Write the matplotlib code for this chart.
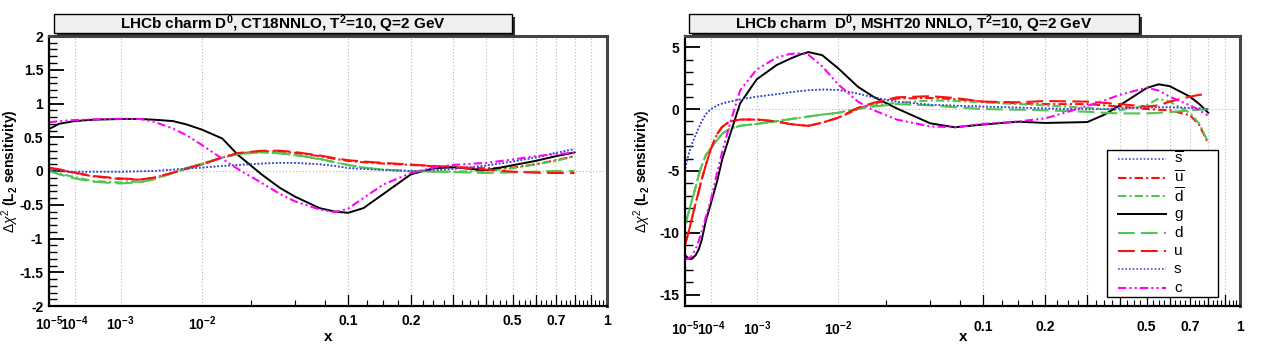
import numpy as np
import matplotlib.pyplot as plt
from matplotlib.lines import Line2D
from matplotlib.patches import Rectangle
from matplotlib.ticker import FixedLocator, MultipleLocator, FuncFormatter

plt.rcParams['font.family'] = ['Liberation Sans', 'DejaVu Sans']
plt.rcParams['mathtext.fontset'] = 'custom'
plt.rcParams['mathtext.rm'] = 'Liberation Sans'
plt.rcParams['mathtext.it'] = 'Liberation Sans:italic'
plt.rcParams['mathtext.bf'] = 'Liberation Sans:bold'

# ---------------- data: CT18NNLO (left) ----------------
x_ct18 = [1e-5, 3e-5, 1e-4, 3e-4, 1e-3, 2e-3, 3e-3, 5e-3, 7e-3, 1e-2, 0.015, 0.02, 0.03,
          0.04, 0.05, 0.07, 0.085, 0.1, 0.12, 0.15, 0.2, 0.25, 0.3, 0.4, 0.5, 0.6, 0.7, 0.8]
ct18_sbar = [0.0, -0.005, -0.01, -0.01, -0.01, -0.005, 0.0, 0.02, 0.035, 0.05, 0.075, 0.09, 0.11,
             0.12, 0.12, 0.10, 0.075, 0.045, 0.03, 0.015, 0.0, 0.01, 0.03, 0.08, 0.14, 0.2, 0.27, 0.32]
ct18_ubar = [0.04, 0.02, -0.03, -0.08, -0.12, -0.13, -0.10, -0.03, 0.035, 0.10, 0.2, 0.26, 0.29,
             0.29, 0.27, 0.22, 0.18, 0.15, 0.13, 0.11, 0.09, 0.07, 0.06, 0.04, 0.05, 0.1, 0.16, 0.22]
ct18_dbar = [0.0, -0.04, -0.09, -0.15, -0.17, -0.155, -0.12, -0.03, 0.045, 0.11, 0.2, 0.25, 0.275,
             0.26, 0.235, 0.175, 0.13, 0.09, 0.05, 0.02, 0.0, -0.01, -0.01, 0.0, 0.04, 0.1, 0.15, 0.22]
ct18_g = [0.62, 0.70, 0.74, 0.76, 0.77, 0.77, 0.76, 0.74, 0.69, 0.61, 0.48, 0.24, -0.05,
          -0.25, -0.38, -0.55, -0.60, -0.62, -0.55, -0.34, -0.05, 0.04, 0.055, 0.01, 0.085, 0.15, 0.22, 0.275]
ct18_d = [0.0, -0.05, -0.11, -0.16, -0.185, -0.165, -0.125, -0.03, 0.045, 0.11, 0.2, 0.25, 0.28,
          0.265, 0.24, 0.18, 0.13, 0.09, 0.05, 0.02, 0.0, -0.01, -0.015, -0.03, -0.02, -0.01, 0.0, 0.0]
ct18_u = [0.05, 0.025, -0.025, -0.075, -0.11, -0.125, -0.10, -0.025, 0.035, 0.10, 0.2, 0.265, 0.30,
          0.30, 0.28, 0.23, 0.19, 0.16, 0.14, 0.12, 0.095, 0.075, 0.06, 0.02, -0.01, -0.025, -0.03, -0.03]
ct18_s = [0.0, -0.005, -0.01, -0.01, -0.01, -0.005, 0.0, 0.02, 0.035, 0.05, 0.075, 0.09, 0.11,
          0.12, 0.12, 0.10, 0.075, 0.045, 0.03, 0.015, 0.0, 0.01, 0.03, 0.08, 0.14, 0.2, 0.27, 0.33]
ct18_c = [0.72, 0.74, 0.755, 0.765, 0.775, 0.77, 0.73, 0.63, 0.53, 0.38, 0.18, 0.03, -0.175,
          -0.34, -0.45, -0.57, -0.61, -0.56, -0.40, -0.2, -0.03, 0.05, 0.09, 0.12, 0.17, 0.22, 0.25, 0.27]

# ---------------- data: MSHT20 NNLO (right) ----------------
x_msht = [1e-5, 1.5e-5, 2e-5, 3e-5, 4e-5, 5e-5, 7e-5, 1e-4, 1.5e-4, 2e-4, 3e-4, 5e-4,
          1e-3, 2e-3, 3e-3, 4e-3, 5e-3, 7e-3, 1e-2, 0.015, 0.02, 0.03, 0.05, 0.07, 0.1,
          0.15, 0.2, 0.3, 0.35, 0.4, 0.5, 0.55, 0.6, 0.7, 0.75, 0.8]
msht_sbar = [-4.8, -3.6, -2.9, -2.1, -1.5, -1.0, -0.4, 0.0, 0.3, 0.45, 0.6, 0.78,
             1.0, 1.2, 1.35, 1.45, 1.52, 1.58, 1.55, 1.25, 0.95, 0.6, 0.35, 0.28, 0.2,
             0.12, 0.05, -0.02, 0.0, 0.05, 0.13, 0.15, 0.14, 0.1, 0.05, 0.0]
msht_ubar = [-10.9, -9.9, -9.0, -7.6, -6.6, -5.7, -4.5, -3.2, -2.0, -1.45, -1.0, -0.85,
             -0.85, -1.0, -1.2, -1.3, -1.35, -1.1, -0.7, 0.0, 0.45, 0.85, 0.9, 0.8, 0.6,
             0.45, 0.4, 0.4, 0.3, 0.2, 0.0, -0.05, -0.1, -0.5, -1.3, -2.8]
msht_dbar = [-9.3, -8.3, -7.5, -6.3, -5.3, -4.6, -3.7, -3.1, -2.5, -2.0, -1.6, -1.35,
             -1.2, -0.98, -0.82, -0.7, -0.6, -0.45, -0.3, 0.05, 0.3, 0.5, 0.7, 0.65, 0.55,
             0.4, 0.3, 0.1, 0.0, -0.1, 0.3, 0.85, 0.6, -0.3, -1.2, -2.7]
msht_g = [-11.8, -12.1, -12.1, -11.8, -11.3, -10.6, -9.0, -7.6, -5.8, -4.1, -2.2, 0.45,
          2.4, 3.55, 4.05, 4.4, 4.6, 4.35, 3.3, 1.8, 1.0, 0.05, -1.15, -1.47, -1.25,
          -1.02, -1.12, -1.05, -0.45, 0.3, 1.7, 2.0, 1.85, 1.0, 0.4, -0.3]
msht_d = [-9.3, -8.3, -7.5, -6.3, -5.3, -4.6, -3.7, -3.2, -2.5, -2.0, -1.6, -1.35,
          -1.2, -0.98, -0.82, -0.7, -0.6, -0.45, -0.3, 0.0, 0.2, 0.4, 0.3, 0.15, 0.0,
          -0.05, -0.1, -0.22, -0.3, -0.35, -0.35, -0.3, -0.25, -0.1, -0.05, 0.0]
msht_u = [-10.9, -9.9, -9.0, -7.6, -6.6, -5.7, -4.5, -3.2, -2.0, -1.45, -1.0, -0.85,
          -0.83, -1.0, -1.2, -1.3, -1.35, -1.1, -0.7, 0.1, 0.5, 0.95, 1.04, 0.9, 0.6,
          0.55, 0.65, 0.6, 0.5, 0.4, 0.2, 0.3, 0.6, 1.0, 1.15, 1.2]
msht_s = [-4.8, -3.6, -2.9, -2.1, -1.5, -1.0, -0.4, 0.0, 0.3, 0.45, 0.6, 0.78,
          1.0, 1.2, 1.35, 1.45, 1.52, 1.58, 1.55, 1.25, 0.95, 0.6, 0.35, 0.28, 0.2,
          0.12, 0.05, -0.02, 0.0, 0.05, 0.13, 0.15, 0.14, 0.1, 0.05, 0.0]
msht_c = [-12.1, -12.1, -11.9, -11.3, -10.6, -9.9, -8.7, -7.3, -5.1, -3.5, -1.3, 1.5,
          3.2, 4.15, 4.45, 4.5, 4.38, 3.45, 2.0, 0.6, -0.08, -0.85, -1.4, -1.47, -1.2,
          -1.0, -0.75, 0.25, 0.7, 1.15, 1.72, 1.5, 1.0, 0.3, -0.1, -0.55]

labels = [r'$\overline{\mathrm{s}}$', r'$\overline{\mathrm{u}}$', r'$\overline{\mathrm{d}}$',
          'g', 'd', 'u', 's', 'c']
tick_vals = [1e-5, 1e-4, 1e-3, 1e-2, 0.1, 0.2, 0.5, 0.7, 1.0]
tick_text = [r'$\mathbf{10^{-5}}$', r'$\mathbf{10^{-4}}$', r'$\mathbf{10^{-3}}$',
             r'$\mathbf{10^{-2}}$', '0.1', '0.2', '0.5', '0.7', '1']

BLUE, RED, GREEN, MAG = '#3f4fd6', '#ff1010', '#52c452', '#ff00ff'
styles = [
    dict(color=BLUE, lw=1.2, ls=(0, (1, 1.2))),
    dict(color=RED, lw=1.5, ls=(0, (4, 1.5, 1, 1.5))),
    dict(color=GREEN, lw=1.5, ls=(0, (4, 1.5, 1, 1.5))),
    dict(color='black', lw=1.4, ls='-'),
    dict(color=GREEN, lw=1.5, ls=(0, (8, 3))),
    dict(color=RED, lw=1.5, ls=(0, (8, 3))),
    dict(color=BLUE, lw=1.2, ls=(0, (1, 1.2))),
    dict(color=MAG, lw=1.5, ls=(0, (4, 1.5, 1, 1.5, 1, 1.5))),
]

W, H = 1263, 345
fig = plt.figure(figsize=(W / 100, H / 100), dpi=100)


def fx(p):
    return p / W


def fy(p):
    return 1 - p / H


def setup(ax, ylim, ymaj, ymin, xlab_py, ylab_px):
    ax.set_xscale('function', functions=(lambda v: np.power(np.clip(v, 1e-12, None), 0.25),
                                         lambda t: np.power(t, 4)))
    ax.set_xlim(1e-5, 1.0)
    ax.set_ylim(*ylim)
    for g in [1e-4, 1e-3, 1e-2] + [k / 10 for k in range(1, 10)]:
        ax.axvline(g, color='#b8b8b8', lw=0.8, ls=(0, (1, 2)), zorder=0)
    ax.axhline(0, color='#b8b8b8', lw=0.8, ls=(0, (1, 2)), zorder=0)
    ax.xaxis.set_major_locator(FixedLocator(tick_vals))
    ax.set_xticklabels(tick_text, fontweight='bold', fontsize=10)
    ax.xaxis.set_minor_locator(FixedLocator([k * 0.025 for k in range(1, 40)]))
    ax.tick_params(axis='x', which='major', direction='in', length=0, pad=xlab_py)
    ax.tick_params(axis='x', which='minor', direction='in', length=4, width=0.8)
    ax.yaxis.set_major_locator(MultipleLocator(ymaj))
    ax.yaxis.set_minor_locator(MultipleLocator(ymin))
    ax.yaxis.set_major_formatter(FuncFormatter(lambda v, p: '%g' % v))
    ax.tick_params(axis='y', which='major', direction='in', length=11, width=1.3, pad=4)
    ax.tick_params(axis='y', which='minor', direction='in', length=5.5, width=1.0)
    for lab in ax.get_yticklabels():
        lab.set_fontweight('bold')
        lab.set_fontsize(10)
    # taller ticks at 0.1 ... 0.9
    for k in range(1, 10):
        ax.plot([k / 10, k / 10], [0, 0.04], transform=ax.get_xaxis_transform(),
                color='black', lw=0.9, clip_on=False)
    for side in ['left', 'bottom']:
        ax.spines[side].set_linewidth(1.6)
    for side in ['top', 'right']:
        ax.spines[side].set_linewidth(2.2)
        ax.spines[side].set_color('#444444')
    ax.set_xlabel('x', fontweight='bold', fontsize=11)
    ax.xaxis.set_label_coords(0.5, -(330 - 306) / 270)
    ax.set_ylabel(r'$\Delta\chi^{2}$ $\mathbf{(L_{2}\ sensitivity)}$', fontsize=10)
    ax.yaxis.set_label_coords(ylab_px, 0.5)


def title_box(x0, x1, text):
    y0, y1 = 14, 33
    fig.add_artist(Rectangle((fx(x0 + 3), fy(y1 + 3)), fx(x1 - x0), (y1 - y0) / H,
                             transform=fig.transFigure, fc='#333333', ec='none'))
    fig.add_artist(Rectangle((fx(x0), fy(y1)), fx(x1 - x0), (y1 - y0) / H,
                             transform=fig.transFigure, fc='#efefef', ec='black', lw=1))
    fig.text(fx((x0 + x1) / 2), fy((y0 + y1) / 2 + 1), text, ha='center', va='center',
             fontsize=11, fontweight='bold')


ax1 = fig.add_axes([fx(48.8), fy(306), fx(606.6 - 48.8), (306 - 36) / H])
for ys, st in zip([ct18_sbar, ct18_ubar, ct18_dbar, ct18_g, ct18_d, ct18_u, ct18_s, ct18_c], styles):
    ax1.plot(x_ct18, ys, **st)
setup(ax1, (-2, 2), 0.5, 0.1, 6, (21 - 48.8) / 557.8)

ax2 = fig.add_axes([fx(685.2), fy(306), fx(1240.2 - 685.2), (306 - 36) / H])
for ys, st in zip([msht_sbar, msht_ubar, msht_dbar, msht_g, msht_d, msht_u, msht_s, msht_c], styles):
    ax2.plot(x_msht, ys, **st)
setup(ax2, (-15.9, 5.9), 5, 1, 10, (653 - 685.2) / 555.0)

title_box(54, 512, r'LHCb charm D$^{\mathbf{0}}$, CT18NNLO, T$^{\mathbf{2}}$=10, Q=2 GeV')
title_box(689, 1139, r'LHCb charm  D$^{\mathbf{0}}$, MSHT20 NNLO, T$^{\mathbf{2}}$=10, Q=2 GeV')

# legend box (right panel)
lx0, lx1, ly0, ly1 = 1107, 1218, 150, 297
fig.add_artist(Rectangle((fx(lx0), fy(ly1)), fx(lx1 - lx0), (ly1 - ly0) / H,
                         transform=fig.transFigure, fc='white', ec='black', lw=1))
row = (ly1 - ly0) / 8
for i, (lab, st) in enumerate(zip(labels, styles)):
    yc = ly0 + row * (i + 0.5)
    fig.add_artist(Line2D([fx(1118), fx(1166)], [fy(yc), fy(yc)], transform=fig.transFigure, **st))
    fig.text(fx(1174), fy(yc), lab, ha='left', va='center', fontsize=11)

fig.savefig('out.png', dpi=100)
